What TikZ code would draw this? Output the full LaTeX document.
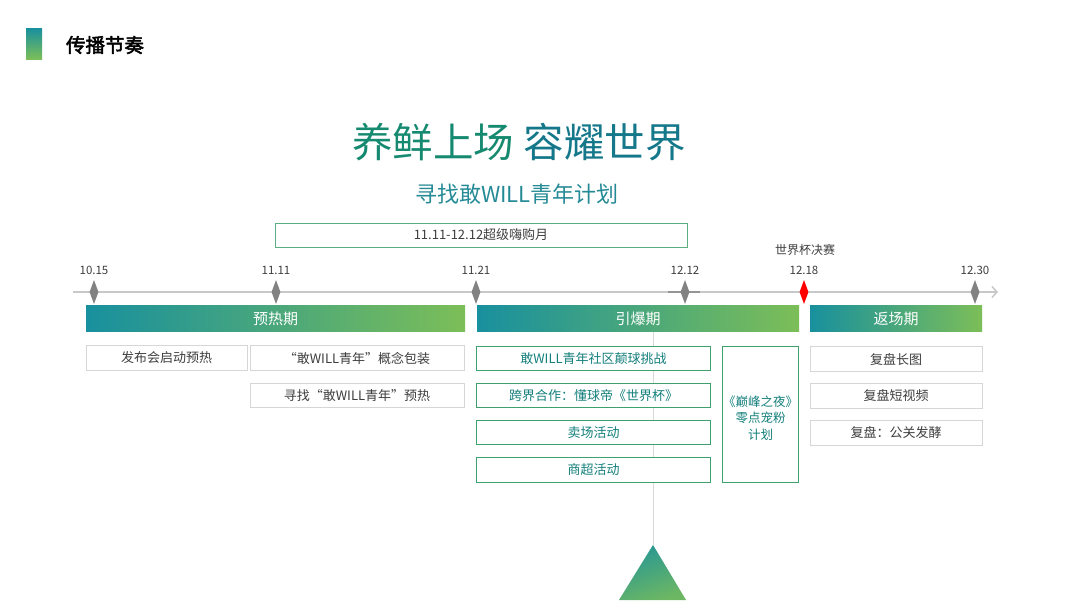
\documentclass[tikz,border=0pt]{standalone}
\usepackage{fontspec}
\usepackage{xcolor}
\usetikzlibrary{arrows.meta,shapes.geometric,positioning}
\newfontfamily\cjk[AutoFakeBold=2.5]{Noto Sans CJK SC}
\definecolor{tealc}{RGB}{24,144,158}
\definecolor{leafc}{RGB}{124,190,88}
\definecolor{titlea}{RGB}{22,138,112}
\definecolor{titleb}{RGB}{20,120,138}
\definecolor{subc}{RGB}{36,138,150}
\definecolor{boxline}{RGB}{62,160,108}
\definecolor{boxgrey}{RGB}{214,214,214}
\definecolor{greyline}{RGB}{200,200,200}
\definecolor{tickc}{RGB}{130,130,130}
\definecolor{txtc}{RGB}{62,62,62}
\definecolor{gtext}{RGB}{20,128,124}

\begin{document}
\begin{tikzpicture}[
  x=1pt,y=-1pt,
  >=Stealth,
  every node/.style={font=\cjk},
  phase/.style={minimum height=26pt,inner sep=0pt,left color=tealc,right color=leafc,
    text=white,font=\cjk\fontsize{15}{17}\selectfont},
  wbox/.style={draw=boxgrey,line width=0.8pt,fill=white,minimum height=24.5pt,inner sep=0pt,
    text=txtc,font=\cjk\fontsize{13}{15}\selectfont},
  gbox/.style={draw=boxline,line width=1pt,fill=white,minimum height=24.5pt,inner sep=0pt,
    text=gtext,font=\cjk\fontsize{13}{15}\selectfont},
  datemark/.style={diamond,aspect=0.375,fill=tickc,minimum width=9pt,minimum height=24pt,inner sep=0pt},
  datelbl/.style={font=\cjk\fontsize{11.5}{13}\selectfont,text=txtc,inner sep=1pt,yshift=4pt}
]
  \fill[white] (0,0) rectangle (1066,600);
  \useasboundingbox (0,0) rectangle (1066,600);

  % heading
  \shade[top color=tealc,bottom color=leafc] (26,28) rectangle (42,59);
  \node[font=\cjk\bfseries\fontsize{19.5}{21}\selectfont,text=black] (head) at (105,45) {传播节奏};

  % titles
  \node[font=\cjk\fontsize{40.5}{44}\selectfont] (title) at (519,142)
    {{\color{titlea}养鲜上场} {\color{titleb}容耀世界}};
  \node[font=\cjk\fontsize{22}{25}\selectfont,text=subc] (sub) at (517,194) {寻找敢WILL青年计划};
  \node[draw=boxline!85,line width=0.8pt,minimum width=412pt,minimum height=24pt,inner sep=0pt,
    text=txtc,font=\cjk\fontsize{13}{15}\selectfont] (month) at (481,235) {11.11-12.12超级嗨购月};

  % timeline
  \coordinate (tl) at (73,292);
  \coordinate (tr) at (998,292);
  \draw[greyline,line width=1.5pt,-{Straight Barb[length=5pt,width=11pt]}] (tl) -- (tr);
  \draw[tickc!85,line width=1.5pt] (668,292) -- (700,292);

  \node[datemark,label={[datelbl]above:10.15}] (d1) at (94,292) {};
  \node[datemark,label={[datelbl]above:11.11}] (d2) at (276,292) {};
  \node[datemark,label={[datelbl]above:11.21}] (d3) at (476,292) {};
  \node[datemark,label={[datelbl]above:12.12}] (d4) at (685,292) {};
  \node[datemark,fill=red,label={[datelbl]above:12.18}] (d5) at (804,292) {};
  \node[datemark,label={[datelbl]above:12.30}] (d6) at (975,292) {};
  \node[text=txtc,inner sep=1pt,font=\cjk\fontsize{12}{14}\selectfont] (final) at (805,250) {世界杯决赛};

  % phases
  \node[phase,minimum width=379pt] (warm) at (275.5,318.5) {预热期};
  \node[phase,minimum width=322pt] (boom) at (638,318.5) {引爆期};
  \node[phase,minimum width=172pt] (back) at (896,318.5) {返场期};

  % guide line and bottom triangle
  \coordinate (apex) at (653,545);
  \draw[greyline!70,line width=0.8pt] (653,332) -- (apex);
  \shade[top color=tealc!85!leafc,bottom color=leafc!85!tealc,shading angle=20]
    (apex) -- (686,600) -- (619,600) -- cycle;

  % warm-up items
  \node[wbox,minimum width=161pt] (w1) at (166.5,358) {发布会启动预热};
  \node[wbox,minimum width=214pt] (w2) at (357,358) {“敢WILL青年”概念包装};
  \node[wbox,minimum width=214pt] (w3) at (357,395.5) {寻找“敢WILL青年”预热};

  % outbreak items
  \node[gbox,minimum width=234pt] (g1) at (593.5,358.5) {敢WILL青年社区颠球挑战};
  \node[gbox,minimum width=234pt] (g2) at (593.5,395.5) {跨界合作：懂球帝《世界杯》};
  \node[gbox,minimum width=234pt] (g3) at (593.5,432.5) {卖场活动};
  \node[gbox,minimum width=234pt] (g4) at (593.5,470) {商超活动};
  \node[gbox,minimum width=76pt,minimum height=136pt,inner sep=0pt] (night) at (760.5,414.5) {};
  \node[align=center,text=gtext,font=\cjk\fontsize{12.5}{16.5}\selectfont] (nighttxt) at (760.5,418)
    {《巅峰之夜》\\零点宠粉\\计划};

  % return items
  \node[wbox,minimum width=172pt] (r1) at (896,359) {复盘长图};
  \node[wbox,minimum width=172pt] (r2) at (896,396) {复盘短视频};
  \node[wbox,minimum width=172pt] (r3) at (896,433) {复盘：公关发酵};
\end{tikzpicture}
\end{document}
